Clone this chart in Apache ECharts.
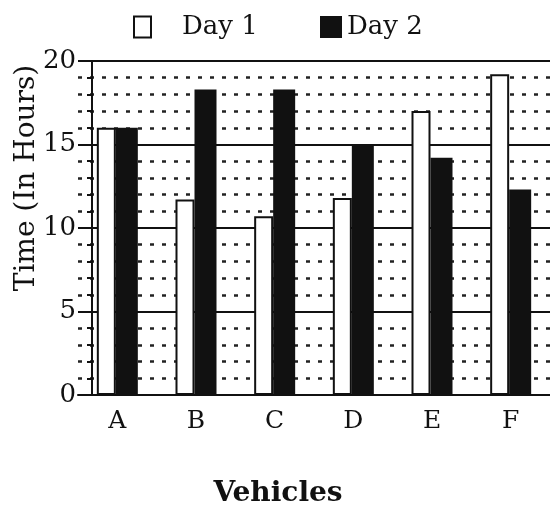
<!DOCTYPE html>
<html>
<head>
<meta charset="utf-8">
<script src="https://cdn.jsdelivr.net/npm/echarts@6/dist/echarts.min.js"></script>
<style>
html,body{margin:0;padding:0;background:#fff;}
#chart{width:550px;height:512px;}
</style>
</head>
<body>
<div id="chart"></div>
<script>
const categories = ['A', 'B', 'C', 'D', 'E', 'F'];
const seriesNames = ['Day 1', 'Day 2'];
const day1 = [16, 11.7, 10.7, 11.8, 17, 19.2];
const day2 = [16, 18.3, 18.3, 15, 14.2, 12.3];
const yTicks = [0, 5, 10, 15, 20];
const yAxisName = 'Time (In Hours)';
const xAxisName = 'Vehicles';

const FONT = '"DejaVu Serif", "Liberation Serif", serif';
const INK = '#111';

const chart = echarts.init(document.getElementById('chart'), null, {renderer: 'canvas'});
chart.setOption({
  animation: false,
  backgroundColor: '#fff',
  grid: {left: 78, top: 61, width: 476, bottom: 117},
  legend: [
    {
      data: [seriesNames[0]], left: 133, top: 14, padding: 0, itemWidth: 17, itemHeight: 21,
      icon: 'rect',
      textStyle: {fontFamily: FONT, fontSize: 26, color: INK, padding: [0, 0, 0, 26]}
    },
    {
      data: [seriesNames[1]], left: 320, top: 14, padding: 0, itemWidth: 22, itemHeight: 22,
      icon: 'rect',
      textStyle: {fontFamily: FONT, fontSize: 26, color: INK}
    }
  ],
  xAxis: {
    type: 'category',
    data: categories,
    axisLine: {lineStyle: {color: INK, width: 2}},
    axisTick: {alignWithLabel: true, length: 8, lineStyle: {color: INK, width: 2}},
    axisLabel: {fontFamily: FONT, fontSize: 25, color: INK, margin: 14}
  },
  yAxis: {
    type: 'value',
    min: yTicks[0],
    max: yTicks[yTicks.length - 1],
    interval: yTicks[1] - yTicks[0],
    offset: -14,
    axisLine: {show: true, lineStyle: {color: INK, width: 2}},
    axisTick: {show: true, length: 9, lineStyle: {color: INK, width: 2}},
    minorTick: {show: true, splitNumber: 5, length: 5, lineStyle: {color: INK, width: 2}},
    splitLine: {show: true, lineStyle: {color: INK, width: 2}},
    minorSplitLine: {show: true, lineStyle: {color: '#222', width: 2.5, type: [4, 8]}},
    axisLabel: {fontFamily: FONT, fontSize: 26, color: INK, margin: 16}
  },
  series: [
    {
      name: seriesNames[0], type: 'bar', data: day1, barWidth: 19, barGap: '0%',
      itemStyle: {color: '#fff', borderColor: INK, borderWidth: 2}
    },
    {
      name: seriesNames[1], type: 'bar', data: day2, barWidth: 22, barGap: '0%',
      itemStyle: {color: INK}
    }
  ],
  graphic: [
    {
      type: 'text', x: 27, y: 178, rotation: Math.PI / 2,
      style: {text: yAxisName, font: '28px ' + FONT, fill: INK, textAlign: 'center', textVerticalAlign: 'middle'}
    },
    {
      type: 'text', x: 278, y: 494,
      style: {text: xAxisName, font: 'bold 28px ' + FONT, fill: INK, textAlign: 'center', textVerticalAlign: 'middle'}
    }
  ]
});
</script>
</body>
</html>
